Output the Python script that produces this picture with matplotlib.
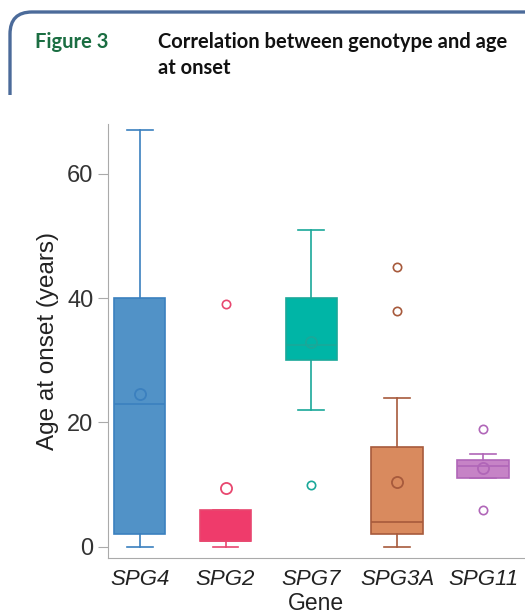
import matplotlib
matplotlib.use("Agg")
import matplotlib.pyplot as plt
from matplotlib.path import Path
from matplotlib.patches import PathPatch

genes = ["SPG4", "SPG2", "SPG7", "SPG3A", "SPG11"]
whislo = [0, 0, 22, 0, 11]
q1 = [2, 1, 30, 2, 11]
median = [23, 1, 32.5, 4, 13]
q3 = [40, 6, 40, 16, 14]
whishi = [67, 6, 51, 24, 15]
means = [24.6, 9.4, 33, 10.5, 12.7]
outliers = [[], [39], [10], [45, 38], [19, 6]]

fills = ["#5192c7", "#ef3b6b", "#00b5a6", "#d98a5e", "#c683c6"]
edges = ["#3b80bf", "#e8476f", "#1aa899", "#a75a3c", "#b066b8"]

plt.rcParams["font.family"] = ["Liberation Sans", "DejaVu Sans"]

W, H = 525, 613
fig = plt.figure(figsize=(W / 100, H / 100), dpi=100)
ax = fig.add_axes([108 / W, 55 / H, 417 / W, 434 / H])

stats = []
for i, g in enumerate(genes):
    stats.append(dict(label=g, whislo=whislo[i], q1=q1[i], med=median[i],
                      q3=q3[i], whishi=whishi[i], mean=means[i], fliers=outliers[i]))

pos = range(1, len(genes) + 1)
bp = ax.bxp(stats, positions=pos, widths=0.6, patch_artist=True,
            showmeans=True, showcaps=True)
for i in range(len(genes)):
    bp["boxes"][i].set(facecolor=fills[i], edgecolor=edges[i], linewidth=1.2)
    bp["medians"][i].set(color=edges[i], linewidth=1.2)
    for w in bp["whiskers"][2 * i:2 * i + 2]:
        w.set(color=edges[i], linewidth=1.2)
    for c in bp["caps"][2 * i:2 * i + 2]:
        c.set(color=edges[i], linewidth=1.2)
    bp["fliers"][i].set(marker="o", markerfacecolor="none", markeredgecolor=edges[i],
                        markersize=6, markeredgewidth=1.2)
    bp["means"][i].set(marker="o", markerfacecolor="none", markeredgecolor=edges[i],
                       markersize=8, markeredgewidth=1.3)

ax.set_xlim(0.63, 5.49)
ax.set_ylim(-1.8, 68)
ax.set_yticks([0, 20, 40, 60])
ax.set_xticks(list(pos))
ax.set_xticklabels(genes, fontstyle="italic", fontsize=16)
ax.tick_params(axis="y", labelsize=17, labelcolor="#333333", length=7, color="#aaaaaa")
ax.tick_params(axis="x", length=0, pad=8, labelcolor="#222222")
for s in ["top", "right"]:
    ax.spines[s].set_visible(False)
for s in ["left", "bottom"]:
    ax.spines[s].set_color("#aaaaaa")
ax.set_ylabel("Age at onset (years)", fontsize=17.5, color="#222222", labelpad=6)
fig.text(316 / W, 1 - 603 / H, "Gene", fontsize=16.5, color="#222222",
         ha="center", va="center")

# header frame: top and left sides with rounded corner
x0, y0, r = 10 / W, 1 - 95 / H, 22
top = 1 - 12 / H
rx, ry = r / W, r / H
verts = [(x0, y0), (x0, top - ry), (x0, top), (x0 + rx, top), (1.02, top)]
codes = [Path.MOVETO, Path.LINETO, Path.CURVE3, Path.CURVE3, Path.LINETO]
frame = PathPatch(Path(verts, codes), transform=fig.transFigure, fill=False,
                  edgecolor="#4c6b9a", linewidth=2.4)
fig.patches.append(frame)

hfont = ["Lato", "DejaVu Sans"]
fig.text(35 / W, 1 - 42 / H, "Figure 3", fontsize=14.5, fontweight="bold",
         color="#1b6e42", family=hfont, va="center")
fig.text(158 / W, 1 - 42 / H, "Correlation between genotype and age", fontsize=14.5,
         fontweight="bold", color="#111111", family=hfont, va="center")
fig.text(158 / W, 1 - 68 / H, "at onset", fontsize=14.5, fontweight="bold",
         color="#111111", family=hfont, va="center")

fig.savefig("out.png", dpi=100)
